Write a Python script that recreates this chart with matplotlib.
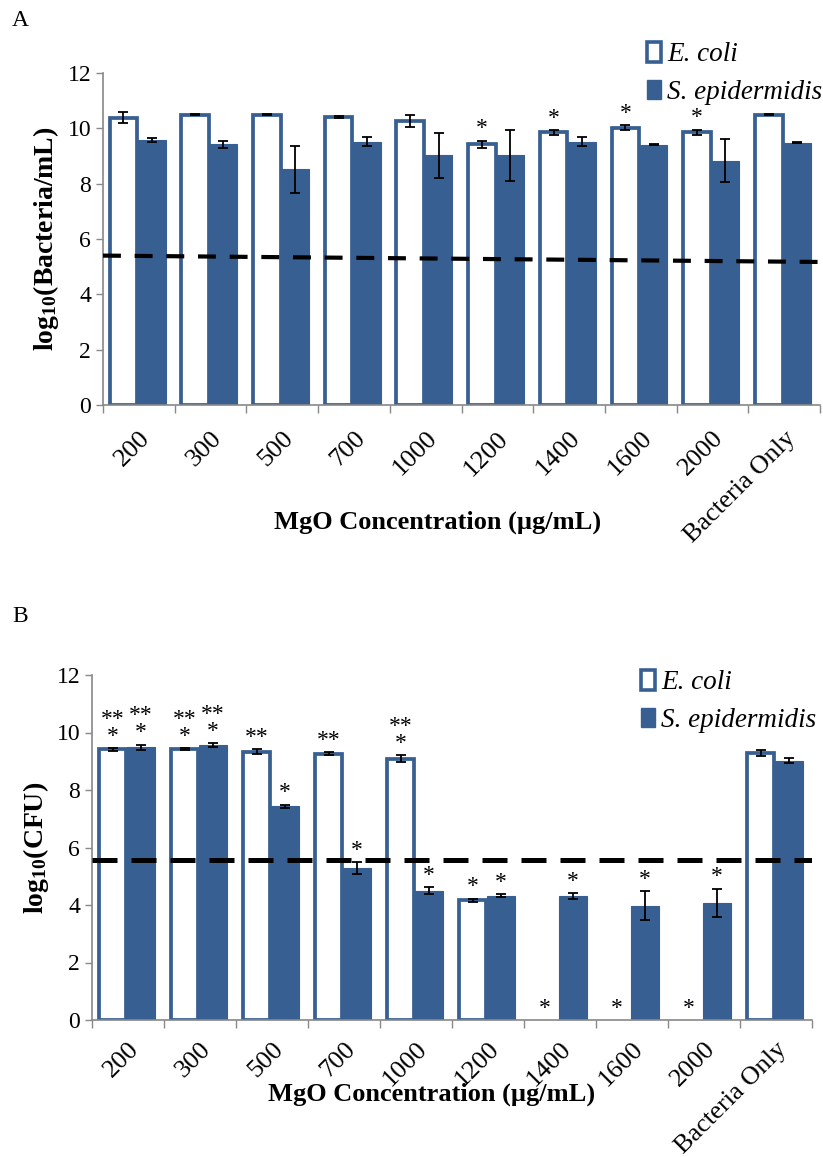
import matplotlib
matplotlib.use("Agg")
import matplotlib.pyplot as plt
import numpy as np
from matplotlib.patches import Patch

plt.rcParams['font.family'] = ['Liberation Serif', 'DejaVu Serif']
plt.rcParams['mathtext.fontset'] = 'custom'
plt.rcParams['mathtext.rm'] = 'Liberation Serif'
plt.rcParams['mathtext.bf'] = 'Liberation Serif:bold'
plt.rcParams['mathtext.default'] = 'bf'

categories = ["200", "300", "500", "700", "1000", "1200", "1400", "1600", "2000", "Bacteria Only"]
series_names = ["E. coli", "S. epidermidis"]

# Panel A
a_ecoli = [10.38, 10.49, 10.50, 10.41, 10.27, 9.42, 9.85, 10.03, 9.85, 10.50]
a_ecoli_err = [0.20, 0.02, 0.02, 0.03, 0.22, 0.14, 0.08, 0.08, 0.10, 0.02]
a_sepi = [9.57, 9.43, 8.52, 9.52, 9.02, 9.02, 9.51, 9.40, 8.83, 9.48]
a_sepi_err = [0.08, 0.13, 0.85, 0.17, 0.82, 0.92, 0.16, 0.02, 0.77, 0.02]
a_ecoli_sig = ["", "", "", "", "", "*", "*", "*", "*", ""]
a_sepi_sig = ["", "", "", "", "", "", "", "", "", ""]
a_threshold = [5.40, 5.17]

# Panel B
b_ecoli = [9.41, 9.43, 9.33, 9.26, 9.09, 4.16, 0, 0, 0, 9.28]
b_ecoli_err = [0.05, 0.03, 0.08, 0.05, 0.12, 0.06, 0, 0, 0, 0.10]
b_sepi = [9.48, 9.56, 7.43, 5.28, 4.49, 4.33, 4.31, 3.98, 4.08, 9.02]
b_sepi_err = [0.10, 0.07, 0.06, 0.20, 0.12, 0.05, 0.10, 0.50, 0.48, 0.08]
b_ecoli_sig = ["**\n*", "**\n*", "**", "**", "**\n*", "*", "*", "*", "*", ""]
b_sepi_sig = ["**\n*", "**\n*", "*", "*", "*", "*", "*", "*", "*", ""]
b_threshold = [5.56, 5.56]

BLUE = "#375F92"
W = 1157
fig = plt.figure(figsize=(8.23, 11.57), dpi=100)


def panel(rect, ecoli, ecoli_err, sepi, sepi_err, esig, ssig, thr, ylabel,
          dash_lw, dashes, leg_anchor, ylabel_x, xlabel_xy, tick_pad):
    ax = fig.add_axes(rect)
    x = np.arange(len(categories))
    bw = 0.385
    ecols = [BLUE if v > 0 else "none" for v in ecoli]
    ax.bar(x - 0.215, ecoli, bw, color="white", edgecolor=ecols, linewidth=2.7, zorder=2)
    ax.bar(x + 0.18, sepi, bw, color=BLUE, edgecolor=BLUE, linewidth=0.8, zorder=2)
    for xi, v, e in zip(x - 0.215, ecoli, ecoli_err):
        if v > 0:
            ax.errorbar(xi, v, yerr=e, fmt="none", ecolor="black", elinewidth=1.3,
                        capsize=3.6, capthick=1.3, zorder=4)
    for xi, v, e in zip(x + 0.18, sepi, sepi_err):
        ax.errorbar(xi, v, yerr=e, fmt="none", ecolor="black", elinewidth=1.3,
                    capsize=3.6, capthick=1.3, zorder=4)
    for xi, v, e, s in zip(x - 0.215, ecoli, ecoli_err, esig):
        if s:
            ax.text(xi, v + e + 0.05, s, ha="center", va="bottom",
                    fontsize=17, linespacing=0.75, zorder=5)
    for xi, v, e, s in zip(x + 0.18, sepi, sepi_err, ssig):
        if s:
            ax.text(xi, v + e + 0.05, s, ha="center", va="bottom",
                    fontsize=17, linespacing=0.75, zorder=5)
    ax.plot([-0.5, len(categories) - 0.5], thr, color="black", linewidth=dash_lw,
            dashes=dashes, zorder=3, dash_capstyle="butt")
    ax.set_xlim(-0.5, len(categories) - 0.5)
    ax.set_ylim(0, 12)
    ax.set_yticks([0, 2, 4, 6, 8, 10, 12])
    ax.tick_params(axis="y", labelsize=17, length=5, color="#888888", width=1)
    ax.set_xticks(x)
    ax.set_xticklabels(categories, rotation=45, ha="right", rotation_mode="anchor",
                       fontsize=19)
    ax.tick_params(axis="x", length=0, pad=tick_pad)
    ax.set_xticks(np.arange(len(categories) + 1) - 0.5, minor=True)
    ax.tick_params(axis="x", which="minor", length=6, color="#888888", width=1)
    for sp in ["top", "right"]:
        ax.spines[sp].set_visible(False)
    for sp in ["left", "bottom"]:
        ax.spines[sp].set_color("#888888")
        ax.spines[sp].set_linewidth(1.2)
    ax.set_ylabel(ylabel, fontsize=20, fontweight="bold")
    ax.yaxis.set_label_coords(ylabel_x, 0.5)
    ax.set_xlabel("MgO Concentration (µg/mL)", fontsize=19, fontweight="bold")
    ax.xaxis.set_label_coords(*xlabel_xy)
    handles = [Patch(facecolor="white", edgecolor=BLUE, linewidth=2.6),
               Patch(facecolor=BLUE, edgecolor=BLUE)]
    ax.legend(handles, series_names, loc="upper left", bbox_to_anchor=leg_anchor,
              bbox_transform=fig.transFigure, frameon=False,
              prop={"style": "italic", "size": 19.5}, handlelength=0.5,
              handleheight=0.75, handletextpad=0.25, labelspacing=0.45,
              borderaxespad=0, borderpad=0)
    return ax


axA = panel([103 / 823, 1 - 405 / W, 717 / 823, 332 / W], a_ecoli, a_ecoli_err, a_sepi,
            a_sepi_err, a_ecoli_sig, a_sepi_sig, a_threshold,
            "log$_{10}$(Bacteria/mL)", 3.0, (4.3, 3.3), (647 / 823, 1 - 42 / W), -0.058,
            (0.466, -0.318), 16)

axB = panel([92 / 823, 1 - 1020 / W, 720 / 823, 345 / W], b_ecoli, b_ecoli_err, b_sepi,
            b_sepi_err, b_ecoli_sig, b_sepi_sig, b_threshold,
            "log$_{10}$(CFU)", 3.6, (5.0, 2.8), (641 / 823, 1 - 670 / W), -0.057,
            (0.471, -0.18), 13)

fig.text(12 / 823, 1 - 26 / W, "A", fontsize=17)
fig.text(12 / 823, 1 - 622 / W, "B", fontsize=17)

fig.savefig("out.png", dpi=100)
